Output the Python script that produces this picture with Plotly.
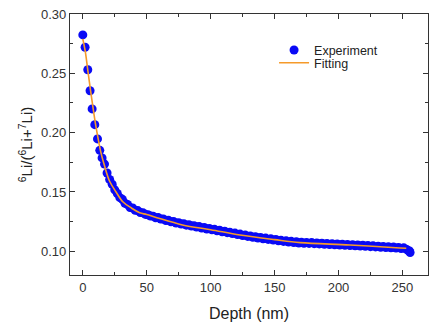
import plotly.graph_objects as go

depth = [0, 1.8, 3.9, 5.7, 7.3, 9.4, 11.5, 13.3, 15.1,
         17, 19, 21, 23, 25, 27, 29, 31, 33, 35, 37, 39, 41, 43, 45, 47, 49,
         51, 53, 55, 57, 59, 61, 63, 65, 67, 69, 71, 73, 75, 77, 79, 81, 83,
         85, 87, 89, 91, 93, 95, 97, 99, 101, 103, 105, 107, 109, 111, 113,
         115, 117, 119, 121, 123, 125, 127, 129, 131, 133, 135, 137, 139, 141,
         143, 145, 147, 149, 151, 153, 155, 157, 159, 161, 163, 165, 167, 169,
         171, 173, 175, 177, 179, 181, 183, 185, 187, 189, 191, 193, 195, 197,
         199, 201, 203, 205, 207, 209, 211, 213, 215, 217, 219, 221, 223, 225,
         227, 229, 231, 233, 235, 237, 239, 241, 243, 245, 247, 249, 251, 253,
         254.5, 255.5, 256]
ratio = [0.2824, 0.2720, 0.2530, 0.2353, 0.2200, 0.2067, 0.1947, 0.1851, 0.1787,
         0.1735, 0.1660, 0.1605, 0.1565, 0.1518, 0.1487, 0.1452, 0.1438, 0.1405,
         0.1394, 0.1368, 0.1365, 0.1346, 0.1343, 0.1326, 0.1325, 0.1311, 0.1308,
         0.1297, 0.1296, 0.1283, 0.1284, 0.1271, 0.1272, 0.1259, 0.1261, 0.1248,
         0.1250, 0.1238, 0.1241, 0.1229, 0.1232, 0.1220, 0.1224, 0.1212, 0.1216,
         0.1204, 0.1208, 0.1196, 0.1200, 0.1188, 0.1193, 0.1181, 0.1185, 0.1173,
         0.1177, 0.1165, 0.1169, 0.1157, 0.1161, 0.1149, 0.1153, 0.1141, 0.1145,
         0.1133, 0.1137, 0.1125, 0.1129, 0.1118, 0.1122, 0.1112, 0.1117, 0.1106,
         0.1111, 0.1100, 0.1105, 0.1094, 0.1099, 0.1088, 0.1093, 0.1083, 0.1088,
         0.1078, 0.1084, 0.1074, 0.1080, 0.1070, 0.1077, 0.1068, 0.1075, 0.1066,
         0.1073, 0.1064, 0.1070, 0.1062, 0.1068, 0.1059, 0.1066, 0.1057, 0.1064,
         0.1055, 0.1062, 0.1053, 0.1060, 0.1051, 0.1058, 0.1049, 0.1056, 0.1047,
         0.1053, 0.1044, 0.1051, 0.1042, 0.1049, 0.1039, 0.1046, 0.1037, 0.1043,
         0.1034, 0.1041, 0.1032, 0.1038, 0.1029, 0.1035, 0.1027, 0.1032, 0.1023,
         0.1029, 0.1018, 0.1006, 0.1003, 0.0990]

fit_depth = [0, 2, 4, 6, 8, 10, 12, 14, 17, 21, 26, 31.5, 38, 44.5, 50, 58, 78,
             100, 123, 150, 170, 209, 248, 253]
fit_ratio = [0.2790, 0.2680, 0.2520, 0.2360, 0.2210, 0.2070, 0.1950, 0.1840,
             0.1720, 0.1590, 0.1500, 0.1415, 0.1365, 0.1325, 0.1310, 0.1283,
             0.1222, 0.1182, 0.1137, 0.1098, 0.1073, 0.1053, 0.1028, 0.1025]

x_ticks = [0, 50, 100, 150, 200, 250]
y_ticks = [0.10, 0.15, 0.20, 0.25, 0.30]

FONT = "Liberation Sans, Arial"

fig = go.Figure()
fig.add_trace(go.Scatter(
    x=depth, y=ratio, mode="markers", name="Experiment", legend="legend",
    marker=dict(color="#0a0af5", size=9, line=dict(width=0)),
))
fig.add_trace(go.Scatter(
    x=fit_depth, y=fit_ratio, mode="lines", name="Fitting", legend="legend2",
    line=dict(color="#F59A2A", width=1.6, shape="spline"),
))

axis_common = dict(
    showline=True, linecolor="#333333", linewidth=1.2, mirror="allticks",
    ticks="inside", ticklen=5, tickwidth=1, tickcolor="#333333",
    showgrid=False, zeroline=False, automargin=False,
    tickfont=dict(family=FONT, size=13, color="#333333"),
    minor=dict(ticks="inside", ticklen=3, tickcolor="#333333", showgrid=False),
)

fig.update_xaxes(
    range=[-10, 270], tickvals=x_ticks, ticktext=[str(v) for v in x_ticks],
    title=dict(text="Depth (nm)", font=dict(family=FONT, size=16, color="#222222"),
               standoff=14),
    minor_dtick=25, minor_tick0=0,
    **axis_common,
)
fig.update_yaxes(
    range=[0.08, 0.30], tickvals=y_ticks, ticktext=[f"{v:.2f}" for v in y_ticks],
    title=dict(text="<sup>6</sup>Li/(<sup>6</sup>Li+<sup>7</sup>Li)",
               font=dict(family=FONT, size=15, color="#222222"),
               standoff=4),
    minor_dtick=0.025, minor_tick0=0,
    **axis_common,
)

leg_common = dict(xanchor="left", yanchor="top", bgcolor="rgba(0,0,0,0)",
                  borderwidth=0, itemwidth=30,
                  font=dict(family=FONT, size=12.5, color="#222222"))

fig.update_layout(
    width=434, height=322,
    margin=dict(l=70, r=6, t=14, b=47),
    paper_bgcolor="white", plot_bgcolor="white",
    showlegend=True,
    legend=dict(x=0.57, y=0.918, **leg_common),
    legend2=dict(x=0.57, y=0.869, **leg_common),
    font=dict(family=FONT),
)

fig.write_html("out.html")
